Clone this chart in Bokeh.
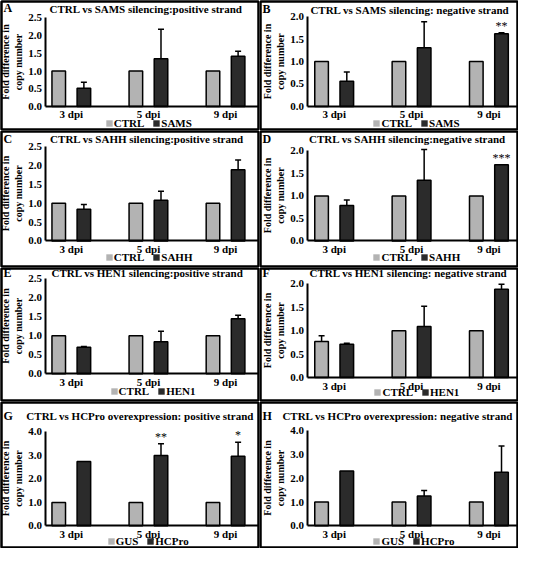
from bokeh.plotting import figure
from bokeh.models import (Range1d, FixedTicker, PrintfTickFormatter, Whisker, ColumnDataSource,
                          Legend, LegendItem, Label, TeeHead)
from bokeh.layouts import column, row
from bokeh.embed import file_html
from bokeh.resources import INLINE
from bokeh.core.properties import value

# ---------------- data ----------------
days = ["3 dpi", "5 dpi", "9 dpi"]

letters = ["A", "B", "C", "D", "E", "F", "G", "H"]
titles = [
    "CTRL vs SAMS silencing:positive strand",
    "CTRL vs SAMS silencing: negative strand",
    "CTRL vs SAHH silencing:positive strand",
    "CTRL vs SAHH silencing:negative strand",
    "CTRL vs HEN1 silencing:positive strand",
    "CTRL vs HEN1 silencing: negative strand",
    "CTRL vs HCPro overexpression: positive strand",
    "CTRL vs HCPro overexpression: negative strand",
]
ctrl_names = ["CTRL", "CTRL", "CTRL", "CTRL", "CTRL", "CTRL", "GUS", "GUS"]
trt_names = ["SAMS", "SAMS", "SAHH", "SAHH", "HEN1", "HEN1", "HCPro", "HCPro"]
y_max = [2.5, 2.0, 2.5, 2.0, 2.5, 2.0, 4.0, 4.0]
y_step = [0.5, 0.5, 0.5, 0.5, 0.5, 0.5, 1.0, 1.0]

A_ctrl = [1.0, 1.0, 1.0]
A_ctrl_err = [0.0, 0.0, 0.0]
A_trt = [0.51, 1.35, 1.42]
A_trt_err = [0.17, 0.83, 0.14]
A_stars = ["", "", ""]

B_ctrl = [1.0, 1.0, 1.0]
B_ctrl_err = [0.0, 0.0, 0.0]
B_trt = [0.56, 1.31, 1.62]
B_trt_err = [0.21, 0.58, 0.02]
B_stars = ["", "", "**"]

C_ctrl = [1.0, 1.0, 1.0]
C_ctrl_err = [0.0, 0.0, 0.0]
C_trt = [0.84, 1.08, 1.89]
C_trt_err = [0.13, 0.24, 0.26]
C_stars = ["", "", ""]

D_ctrl = [1.0, 1.0, 1.0]
D_ctrl_err = [0.0, 0.0, 0.0]
D_trt = [0.79, 1.35, 1.69]
D_trt_err = [0.12, 0.68, 0.0]
D_stars = ["", "", "***"]

E_ctrl = [1.0, 1.0, 1.0]
E_ctrl_err = [0.0, 0.0, 0.0]
E_trt = [0.70, 0.84, 1.45]
E_trt_err = [0.02, 0.28, 0.09]
E_stars = ["", "", ""]

F_ctrl = [0.77, 1.0, 1.0]
F_ctrl_err = [0.12, 0.0, 0.0]
F_trt = [0.71, 1.09, 1.88]
F_trt_err = [0.02, 0.43, 0.11]
F_stars = ["", "", ""]

G_ctrl = [1.0, 1.0, 1.0]
G_ctrl_err = [0.0, 0.0, 0.0]
G_trt = [2.74, 3.0, 2.96]
G_trt_err = [0.0, 0.5, 0.6]
G_stars = ["", "**", "*"]

H_ctrl = [1.0, 1.0, 1.0]
H_ctrl_err = [0.0, 0.0, 0.0]
H_trt = [2.3, 1.25, 2.25]
H_trt_err = [0.0, 0.24, 1.1]
H_stars = ["", "", ""]

# ---------------- layout / style ----------------
FONT = "Liberation Serif"
LIGHT = "#b3b3b3"
DARK = "#2b2b2b"
W = 259
ROW_H = [130, 137, 134, 147]
SX = 0.97
SY = 0.9716
# per column (original-pixel) horizontal geometry: y-axis x, centre of group 1, centre of group 3
COLGEO = [(46, 73, 232), (49, 77, 236.5)]
# per panel (original-pixel, panel-local): top tick y, zero y, title x/y, letter y, legend left, legend centre y
PGEO = [
    (18.0, 109.0, 150, 9, 8, 108, 127),
    (16.7, 109.0, 155, 9.5, 9, 117, 127),
    (16.7, 113.7, 151, 9, 9, 108, 130.5),
    (21.0, 113.7, 152.5, 9, 9, 117, 130.5),
    (11.7, 109.3, 151.5, 6, 6, 113, 127.5),
    (16.7, 113.3, 153.5, 6, 6, 118, 128.5),
    (31.3, 128.0, 144, 15, 15, 110, 144),
    (30.0, 128.0, 142.5, 15, 15, 117, 144),
]
OFF = 0.163
BW = 0.176
LEG_HALF = 6


def whiskers(p, xs, tops, errs):
    xx, lo, hi = [], [], []
    for x, t, e in zip(xs, tops, errs):
        if e > 0:
            xx.append(x)
            lo.append(t)
            hi.append(t + e)
    if xx:
        src = ColumnDataSource(dict(x=xx, lower=lo, upper=hi))
        p.add_layout(Whisker(source=src, base="x", lower="lower", upper="upper", dimension="height",
                             line_color="black", line_width=1.5,
                             upper_head=TeeHead(size=6, line_width=1.5, line_color="black"),
                             lower_head=None))


def panel(i, ctrl, ctrl_err, trt, trt_err, stars):
    H = ROW_H[i // 2]
    ax_px, c1_px, c3_px = [v * SX for v in COLGEO[i % 2]]
    top_px, zero_px, tx, ty, ly, leg_l, leg_c = PGEO[i]
    top_px, zero_px, ty, ly, leg_c = [v * SY for v in (top_px, zero_px, ty, ly, leg_c)]
    tx, leg_l = tx * SX, leg_l * SX

    ppx = (c3_px - c1_px) / 2.0
    x0 = 1 + (1 - c1_px) / ppx
    x1 = 1 + (W - 1 - c1_px) / ppx
    xax = 1 + (ax_px - c1_px) / ppx
    ymax = y_max[i]
    ppy = (zero_px - top_px) / ymax
    y0 = -(H - 1 - zero_px) / ppy
    y1 = ymax + (top_px - 1) / ppy

    p = figure(width=W, height=H, output_backend="svg", toolbar_location=None, title=None,
               x_range=Range1d(x0, x1), y_range=Range1d(y0, y1),
               min_border_left=1, min_border_right=1, min_border_top=1, min_border_bottom=1)
    p.xgrid.visible = False
    p.ygrid.visible = False
    p.outline_line_color = "black"
    p.outline_line_width = 2.5

    groups = [1, 2, 3]
    xc = [g - OFF for g in groups]
    xt = [g + OFF for g in groups]
    p.vbar(x=xc, top=ctrl, width=BW, fill_color=LIGHT, line_color="black", line_width=1.5)
    p.vbar(x=xt, top=trt, width=BW, fill_color=DARK, line_color="black", line_width=1.5)
    whiskers(p, xc, ctrl, ctrl_err)
    whiskers(p, xt, trt, trt_err)
    # legend swatches without outline (zero-height, invisible in the plot)
    k1 = p.vbar(x=xc[:1], top=[0], width=BW, fill_color=LIGHT, line_color=None)
    k2 = p.vbar(x=xt[:1], top=[0], width=BW, fill_color=DARK, line_color=None)

    sx, sy, st = [], [], []
    for x, t, e, s in zip(xt, trt, trt_err, stars):
        if s:
            sx.append(x)
            sy.append(t + e)
            st.append(s)
    if sx:
        p.text(x=sx, y=sy, text=st, text_align="center", text_baseline="bottom",
               text_font=value(FONT), text_font_size="12px", text_color="black")

    xa = p.xaxis[0]
    xa.fixed_location = 0
    xa.bounds = (xax, x1)
    xa.ticker = FixedTicker(ticks=groups)
    xa.major_label_overrides = {g: d for g, d in zip(groups, days)}
    xa.major_tick_line_color = None
    xa.minor_tick_line_color = None
    xa.major_tick_out = 0
    xa.major_tick_in = 0
    xa.minor_tick_out = 0
    xa.axis_line_width = 2
    xa.axis_line_color = "black"
    xa.major_label_text_color = "black"
    xa.major_label_text_font = FONT
    xa.major_label_text_font_style = "bold"
    xa.major_label_text_font_size = "11px"
    xa.major_label_standoff = 2

    ya = p.yaxis[0]
    ya.fixed_location = xax
    ya.bounds = (0, ymax)
    n = int(round(ymax / y_step[i]))
    ya.ticker = FixedTicker(ticks=[k * y_step[i] for k in range(n + 1)])
    ya.formatter = PrintfTickFormatter(format="%.1f")
    ya.major_tick_line_color = None
    ya.minor_tick_line_color = None
    ya.major_tick_out = 0
    ya.major_tick_in = 0
    ya.minor_tick_out = 0
    ya.axis_line_width = 2
    ya.axis_line_color = "black"
    ya.major_label_text_color = "black"
    ya.major_label_text_font = FONT
    ya.major_label_text_font_style = "bold"
    ya.major_label_text_font_size = "11px"
    ya.major_label_standoff = 3
    ya.axis_label = "Fold difference in\ncopy number"
    ya.axis_label_text_color = "black"
    ya.axis_label_text_font = FONT
    ya.axis_label_text_font_style = "bold"
    ya.axis_label_text_font_size = "10px"
    ya.axis_label_standoff = 2

    leg = Legend(items=[LegendItem(label=ctrl_names[i], renderers=[k1]),
                        LegendItem(label=trt_names[i], renderers=[k2])],
                 orientation="horizontal",
                 location=(leg_l - 1, H - 1 - (leg_c + LEG_HALF)),
                 label_text_font=FONT, label_text_font_style="bold", label_text_font_size="11px",
                 label_text_color="black",
                 glyph_width=8, glyph_height=8, label_height=9, label_standoff=1,
                 spacing=8, padding=0, margin=0, border_line_color=None,
                 background_fill_alpha=0)
    p.add_layout(leg)

    p.add_layout(Label(x=tx - 1, y=H - 1 - ty, x_units="screen", y_units="screen",
                       text=titles[i], text_font=FONT, text_font_style="bold",
                       text_font_size="11px", text_color="black",
                       text_align="center", text_baseline="middle"))
    p.add_layout(Label(x=2, y=H - 1 - ly, x_units="screen", y_units="screen",
                       text=letters[i], text_font=FONT, text_font_style="bold",
                       text_font_size="12px", text_color="black",
                       text_align="left", text_baseline="middle"))
    return p


pA = panel(0, A_ctrl, A_ctrl_err, A_trt, A_trt_err, A_stars)
pB = panel(1, B_ctrl, B_ctrl_err, B_trt, B_trt_err, B_stars)
pC = panel(2, C_ctrl, C_ctrl_err, C_trt, C_trt_err, C_stars)
pD = panel(3, D_ctrl, D_ctrl_err, D_trt, D_trt_err, D_stars)
pE = panel(4, E_ctrl, E_ctrl_err, E_trt, E_trt_err, E_stars)
pF = panel(5, F_ctrl, F_ctrl_err, F_trt, F_trt_err, F_stars)
pG = panel(6, G_ctrl, G_ctrl_err, G_trt, G_trt_err, G_stars)
pH = panel(7, H_ctrl, H_ctrl_err, H_trt, H_trt_err, H_stars)

layout = column(row(pA, pB), row(pC, pD), row(pE, pF), row(pG, pH))
open("out.html", "w").write(file_html(layout, INLINE))
